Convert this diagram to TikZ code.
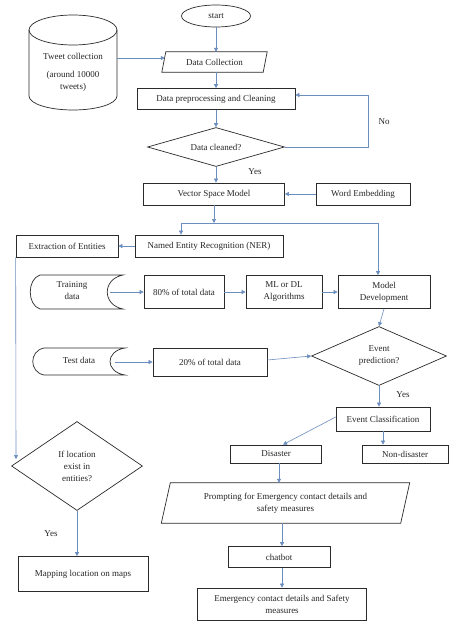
\documentclass[tikz,border=0pt]{standalone}
\usepackage{fontspec}
\setmainfont{Liberation Serif}
\usetikzlibrary{arrows.meta,shapes.geometric}
\definecolor{connc}{HTML}{6C8EBF}
\definecolor{edgec}{HTML}{2B2B2B}
\begin{document}
\begin{tikzpicture}[x=1pt,y=-1pt,
  every node/.style={font=\fontsize{9}{12}\selectfont, text=black!85},
  box/.style={draw=edgec, line width=0.7pt, inner sep=1pt, align=center},
  plain/.style={inner sep=0pt, align=center},
  conn/.style={draw=connc, line width=0.6pt, -{Triangle[length=4pt,width=4pt]}},
  cline/.style={draw=connc, line width=0.6pt},
  outline/.style={draw=edgec, line width=0.7pt},
  dia/.style={draw=edgec, line width=0.7pt, shape=diamond, inner sep=0pt, align=center}
]
\useasboundingbox (0,0) rectangle (464,626);
\fill[white] (0,0) rectangle (464,626);

% start
\node[ellipse, draw=edgec, line width=0.7pt, minimum width=69pt, minimum height=22pt, inner sep=0pt] (start) at (216,16) {start};

% cylinder
\node[plain, minimum width=88pt, minimum height=95pt] (tweet) at (73,62) {};
\draw[outline] (29,30) -- (29,96) arc[start angle=180, end angle=360, x radius=44pt, y radius=14pt] -- (117,30);
\draw[outline] (73,30) ellipse [x radius=44pt, y radius=15pt];
\node[plain] (tweettxt) at (73,72) {Tweet collection\\[6pt](around 10000\\tweets)};

% data collection
\node[plain, minimum width=101pt, minimum height=20pt] (dc) at (214.5,62) {Data Collection};
\draw[outline] ([xshift=-2pt]dc.south west) -- ([xshift=-2pt]dc.south east) -- ([xshift=2pt]dc.north east) -- ([xshift=2pt]dc.north west) -- cycle;

\node[box, minimum width=158pt, minimum height=21pt] (prep) at (216,99) {Data preprocessing and Cleaning};
\node[dia, aspect=3, minimum width=137pt, minimum height=39pt] (clean) at (216,147) {Data cleaned?};
\node[box, minimum width=141pt, minimum height=22pt] (vsm) at (214,194) {Vector Space Model};
\node[box, minimum width=94pt, minimum height=22pt] (we) at (363,194) {Word Embedding};
\node[box, minimum width=148pt, minimum height=22pt] (ner) at (209,246) {Named Entity Recognition (NER)};
\node[box, minimum width=102pt, minimum height=22pt] (ee) at (67,246) {Extraction of Entities};

% training data (stored data)
\draw[outline] (40,275) -- (123,275) .. controls (102,279) and (102,305) .. (123,309) -- (40,309) .. controls (27,305) and (27,279) .. (40,275) -- cycle;
\node[plain] (train) at (72,291) {Training\\data};
\coordinate (trainout) at (110,292);

\node[box, minimum width=80pt, minimum height=33pt] (p80) at (184,292) {80\% of total data};
\node[box, minimum width=76pt, minimum height=33pt] (ml) at (284,292) {ML or DL\\Algorithms};
\node[box, minimum width=92pt, minimum height=33pt] (md) at (384,292) {Model\\Development};

% test data (stored data)
\draw[outline] (44,348) -- (125,348) .. controls (105,351) and (105,372) .. (125,375) -- (44,375) .. controls (29,372) and (29,351) .. (44,348) -- cycle;
\node[plain] (test) at (79,360) {Test data};
\coordinate (testout) at (115,362);

\node[box, minimum width=114pt, minimum height=28pt] (p20) at (210,362) {20\% of total data};
\node[dia, aspect=2.3, minimum width=135pt, minimum height=59pt] (evp) at (379,356) {Event\\prediction?};
\node[box, minimum width=94pt, minimum height=24pt] (ec) at (383,419) {Event Classification};
\node[box, minimum width=91pt, minimum height=18pt] (dis) at (276,454) {Disaster};
\node[box, minimum width=86pt, minimum height=18pt] (nd) at (405,454) {Non-disaster};

% prompting parallelogram
\node[plain, minimum width=239pt, minimum height=40pt] (prompt) at (285.5,503) {Prompting for Emergency contact details and\\safety measures};
\draw[outline] ([xshift=-4.5pt]prompt.south west) -- ([xshift=-4.5pt]prompt.south east) -- ([xshift=4.5pt]prompt.north east) -- ([xshift=4.5pt]prompt.north west) -- cycle;

\node[box, minimum width=102pt, minimum height=21pt] (chat) at (279,557) {chatbot};
\node[box, minimum width=169pt, minimum height=32pt] (em) at (282,604) {Emergency contact details and Safety\\measures};

\node[dia, aspect=1.5, minimum width=131pt, minimum height=89pt] (loc) at (77,466) {If location\\exist in\\entities?};
\node[box, minimum width=130pt, minimum height=35pt] (map) at (83,574) {Mapping location on maps};

% labels
\node[plain] (lno) at (384,122) {No};
\node[plain] (lyes1) at (255,172) {Yes};
\node[plain] (lyes2) at (403,395) {Yes};
\node[plain] (lyes3) at (51,534) {Yes};

% connectors
\draw[conn] (start.south) -- (dc.north -| start.south);
\draw[conn] ([yshift=4pt]tweet.east) -- ([yshift=4pt,xshift=1pt]dc.west);
\draw[conn] (dc.south -| prep.north) -- (prep.north);
\draw[conn] (prep.south) -- (clean.north);
\coordinate (nocorner) at (368,147);
\draw[conn] (clean.east) -- (nocorner) |- ([yshift=4pt]prep.east);
\draw[conn] (clean.south) -- (clean.south |- vsm.north);
\draw[conn] (we.west) -- (vsm.east);
\coordinate (split) at (214,223);
\coordinate (splitL) at (181,223);
\coordinate (splitR) at (378,223);
\draw[conn] (vsm.south) -- (split);
\draw[cline] (splitL) -- (splitR);
\draw[conn] (splitL) -- (splitL |- ner.north);
\draw[conn] (splitR) -- (splitR |- md.north);
\draw[conn] (ner.west) -- (ee.east);
\coordinate (locin) at (16,459);
\draw[conn] (ee.south west) -- (locin);
\draw[conn] (trainout) -- (p80.west);
\draw[conn] (p80.east) -- (ml.west);
\draw[conn] (ml.east) -- (md.west);
\draw[conn] (md.south) -- (evp.north);
\draw[conn] (testout) -- (p20.west);
\draw[conn] ([yshift=2pt]p20.east) -- (evp.west);
\draw[conn] (evp.south) -- (evp.south |- ec.north);
\draw[conn] ([yshift=2pt]ec.west) -- ([xshift=7pt]dis.north);
\draw[conn] (ec.south) -- (ec.south |- nd.north);
\draw[conn] ([xshift=3pt]dis.south) -- ([xshift=3pt]dis.south |- prompt.north);
\draw[conn] (prompt.south -| em.north) -- (em.north |- chat.north);
\draw[conn] (chat.south -| em.north) -- (em.north);
\draw[conn] (loc.south) -- (loc.south |- map.north);
\end{tikzpicture}
\end{document}
